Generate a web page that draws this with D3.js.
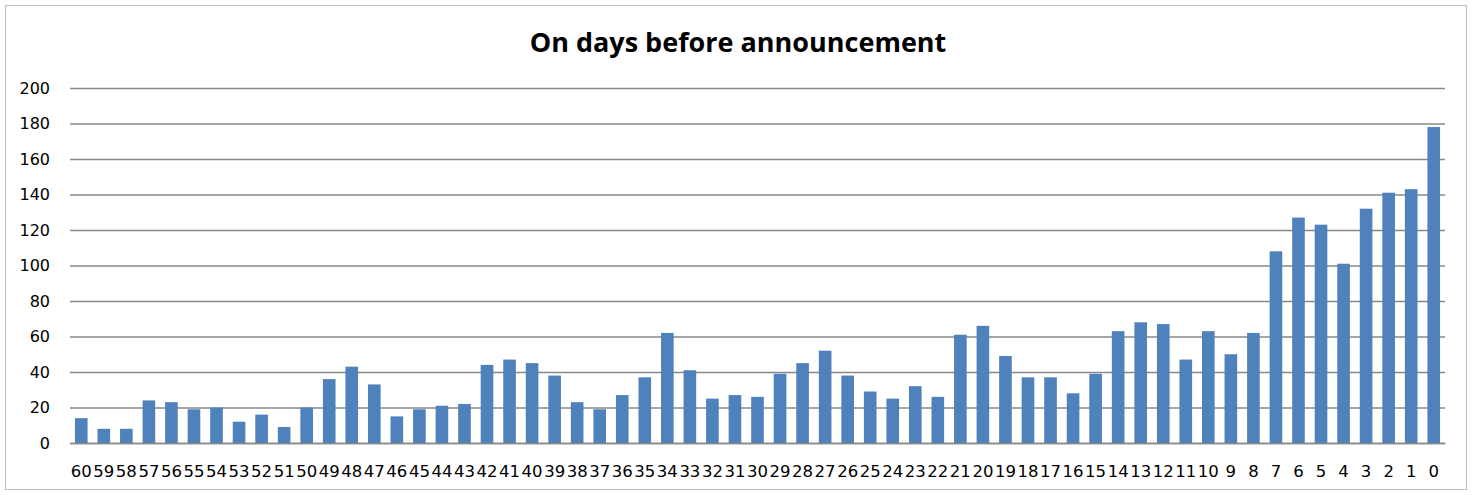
<!DOCTYPE html>
<html>
<head>
    <title>On days before announcement</title>
    <script src="https://cdn.jsdelivr.net/npm/d3@7"></script>
    <style>
        body { margin: 0; background: #fff; }
    </style>
</head>
<body>
    <svg width="1473" height="495" id="mainsvg"></svg>
    <script>
        const days = d3.range(60, -1, -1).map(String);
        const counts = [14, 8, 8, 24, 23, 19, 20, 12, 16, 9,
            20, 36, 43, 33, 15, 19, 21, 22, 44, 47,
            45, 38, 23, 19, 27, 37, 62, 41, 25, 27,
            26, 39, 45, 52, 38, 29, 25, 32, 26, 61,
            66, 49, 37, 37, 28, 39, 63, 68, 67, 47,
            63, 50, 62, 108, 127, 123, 101, 132, 141, 143,
            178];
        const yTicks = [0, 20, 40, 60, 80, 100, 120, 140, 160, 180, 200];
        const title = 'On days before announcement';

        const svg = d3.select('svg');
        const width = +svg.attr('width');
        const height = +svg.attr('height');
        const margin = { top: 88, right: 28, bottom: 52, left: 70 };
        const innerWidth = width - margin.left - margin.right;
        const innerHeight = height - margin.top - margin.bottom;
        const tickFont = '"DejaVu Sans", sans-serif';

        // chart border
        svg.append('rect')
            .attr('x', 5.5).attr('y', 5.5)
            .attr('width', width - 12).attr('height', height - 11)
            .attr('fill', 'none').attr('stroke', '#bfbfbf');

        svg.append('text')
            .attr('x', 738).attr('y', 52)
            .attr('text-anchor', 'middle')
            .style('font-family', '"Open Sans", sans-serif').style('font-weight', 'bold').style('font-size', '27px')
            .text(title);

        const g = svg.append('g')
            .attr('transform', `translate(${margin.left}, ${margin.top})`);

        const x = d3.scaleBand().domain(days).range([0, innerWidth]).paddingInner(0.44).paddingOuter(0.22);
        const y = d3.scaleLinear().domain([0, 200]).range([innerHeight, 0]);

        // gridlines + y labels
        const yAxis = g.append('g')
            .call(d3.axisLeft(y).tickValues(yTicks).tickSize(-innerWidth).tickPadding(20));
        yAxis.select('.domain').remove();
        yAxis.selectAll('.tick line').attr('stroke', '#888').attr('stroke-width', 1.3);
        yAxis.selectAll('.tick text')
            .style('font-family', tickFont).style('font-size', '16px').attr('fill', '#000');

        g.selectAll('rect.bar').data(counts).join('rect')
            .attr('class', 'bar')
            .attr('x', (d, i) => x(days[i]))
            .attr('y', d => y(d))
            .attr('width', x.bandwidth())
            .attr('height', d => innerHeight - y(d))
            .attr('fill', '#4f81bd');

        const xAxis = g.append('g')
            .attr('transform', `translate(0, ${innerHeight})`)
            .call(d3.axisBottom(x).tickSize(0).tickPadding(22));
        xAxis.select('.domain').attr('stroke', '#888').attr('stroke-width', 1.3);
        xAxis.selectAll('.tick text')
            .style('font-family', tickFont).style('font-size', '16.5px').attr('fill', '#000');
    </script>
</body>
</html>
